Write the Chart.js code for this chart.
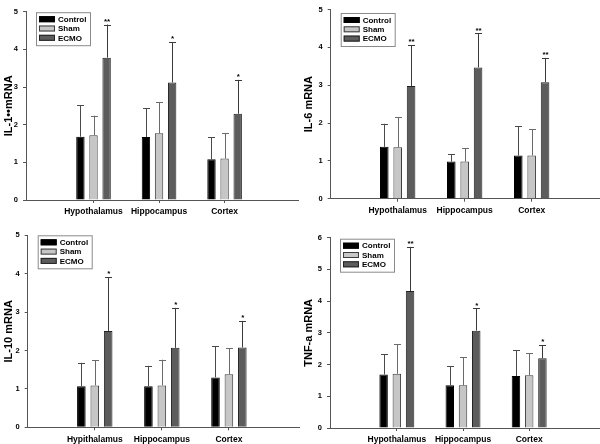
<!DOCTYPE html>
<html>
<head>
<meta charset="utf-8">
<script src="https://cdn.jsdelivr.net/npm/chart.js@4/dist/chart.umd.min.js"></script>
<style>
  body { margin: 0; background: #fff; }
  #wrap { position: relative; width: 600px; height: 444px; }
  .pan { position: absolute; width: 300px; height: 222px; }
</style>
</head>
<body>
<div id="wrap">
  <div class="pan" style="left:0;top:0"><canvas id="c1"></canvas></div>
  <div class="pan" style="left:300px;top:0"><canvas id="c2"></canvas></div>
  <div class="pan" style="left:0;top:222px"><canvas id="c3"></canvas></div>
  <div class="pan" style="left:300px;top:222px"><canvas id="c4"></canvas></div>
</div>
<script>
const seriesNames = ['Control', 'Sham', 'ECMO'];
const regionsA = ['Hypothalamus', 'Hippocampus', 'Cortex'];
const regionsB = ['Hypithalamus', 'Hippocampus', 'Cortex'];
const groupPos = [1, 2, 3];

// IL-1
const il1Control = [1.68, 1.67, 1.08];
const il1Sham = [1.72, 1.77, 1.10];
const il1Ecmo = [3.78, 3.12, 2.29];
const il1ControlErr = [0.83, 0.76, 0.59];
const il1ShamErr = [0.52, 0.82, 0.68];
const il1EcmoErr = [0.88, 1.07, 0.90];
const il1Stars = ['**', '*', '*'];

// IL-6
const il6Control = [1.37, 0.98, 1.14];
const il6Sham = [1.36, 0.98, 1.14];
const il6Ecmo = [2.98, 3.47, 3.08];
const il6ControlErr = [0.61, 0.19, 0.77];
const il6ShamErr = [0.80, 0.35, 0.70];
const il6EcmoErr = [1.08, 0.90, 0.64];
const il6Stars = ['**', '**', '**'];

// IL-10
const il10Control = [1.07, 1.07, 1.30];
const il10Sham = [1.09, 1.09, 1.38];
const il10Ecmo = [2.51, 2.07, 2.08];
const il10ControlErr = [0.61, 0.53, 0.81];
const il10ShamErr = [0.65, 0.67, 0.68];
const il10EcmoErr = [1.40, 1.04, 0.69];
const il10Stars = ['*', '*', '*'];

// TNF-a
const tnfControl = [1.69, 1.35, 1.64];
const tnfSham = [1.71, 1.35, 1.66];
const tnfEcmo = [4.32, 3.07, 2.20];
const tnfControlErr = [0.63, 0.60, 0.82];
const tnfShamErr = [0.93, 0.88, 0.69];
const tnfEcmoErr = [1.39, 0.70, 0.41];
const tnfStars = ['**', '*', '*'];

const fillCols = ['#000000', '#c6c6c6', '#5c5c5c'];
const edgeCols = ['#000000', '#3a3a3a', '#222222'];
const errCols = ['#4a4a4a', '#6a6a6a', '#3a3a3a'];
const FONT = "'Liberation Sans', Arial, sans-serif";

const errPlugin = {
    id: 'errBars',
    afterDatasetsDraw(chart) {
        const ctx = chart.ctx;
        const ys = chart.scales.y;
        chart.data.datasets.forEach((ds, d) => {
            const meta = chart.getDatasetMeta(d);
            meta.data.forEach((bar, i) => {
                const top = ys.getPixelForValue(ds.data[i].y + ds.err[i]);
                ctx.save();
                ctx.strokeStyle = errCols[d];
                ctx.lineWidth = 1;
                ctx.beginPath();
                ctx.moveTo(Math.round(bar.x) + 0.5, bar.y);
                ctx.lineTo(Math.round(bar.x) + 0.5, top);
                ctx.moveTo(Math.round(bar.x) - 3, Math.round(top) + 0.5);
                ctx.lineTo(Math.round(bar.x) + 4, Math.round(top) + 0.5);
                ctx.stroke();
                if (ds.stars) {
                    ctx.fillStyle = '#000';
                    ctx.font = 'bold 8px ' + FONT;
                    ctx.textAlign = 'center';
                    ctx.textBaseline = 'bottom';
                    ctx.fillText(ds.stars[i], bar.x + 0.5, top + 1);
                }
                ctx.restore();
            });
        });
    }
};

const legendPlugin = {
    id: 'boxLegend',
    afterDraw(chart) {
        const ctx = chart.ctx;
        const a = chart.chartArea;
        const x = a.left + 10, y = a.top + chart.options.legDy;
        ctx.save();
        ctx.fillStyle = '#fff';
        ctx.fillRect(x, y, 54, 33);
        ctx.strokeStyle = '#8a8a8a';
        ctx.lineWidth = 1;
        ctx.strokeRect(x + 0.5, y + 0.5, 54, 33);
        chart.data.datasets.forEach((ds, d) => {
            const cy = y + 7 + d * 9.3;
            ctx.fillStyle = fillCols[d];
            ctx.fillRect(x + 3, cy - 3, 16, 6);
            ctx.strokeStyle = edgeCols[d];
            ctx.strokeRect(x + 3.5, cy - 2.5, 15, 5);
            ctx.fillStyle = '#000';
            ctx.font = 'bold 8px ' + FONT;
            ctx.textAlign = 'left';
            ctx.textBaseline = 'middle';
            ctx.fillText(ds.label, x + 22, cy + 0.5);
        });
        ctx.restore();
    }
};

function makePanel(id, labels, vals, errs, stars, yMax, yTitle, box) {
    const datasets = seriesNames.map((name, d) => ({
        label: name,
        data: groupPos.map((p, i) => ({ x: p, y: vals[d][i] })),
        err: errs[d],
        stars: d === 2 ? stars : null,
        backgroundColor: fillCols[d],
        borderColor: edgeCols[d],
        borderWidth: 1,
        categoryPercentage: 0.6,
        barPercentage: 0.64
    }));
    new Chart(document.getElementById(id), {
        type: 'bar',
        data: { datasets },
        plugins: [errPlugin, legendPlugin],
        options: {
            responsive: true,
            maintainAspectRatio: false,
            animation: false,
            legDy: box.legDy,
            layout: { padding: { top: box.top, right: 300 - box.right, left: 0, bottom: 0 } },
            plugins: { legend: { display: false }, tooltip: { enabled: false } },
            scales: {
                x: {
                    type: 'linear',
                    offset: false,
                    min: box.xMin,
                    max: box.xMax,
                    afterBuildTicks: s => { s.ticks = groupPos.map(v => ({ value: v })); },
                    afterFit: s => { s.height = 222 - box.bottom; },
                    grid: { offset: false, drawOnChartArea: false, tickLength: 3, color: '#555' },
                    border: { color: '#555', width: 1 },
                    ticks: {
                        autoSkip: false, maxRotation: 0, padding: 4, color: '#000',
                        font: { family: FONT, size: 8.5, weight: 'bold' },
                        callback: v => labels[groupPos.indexOf(v)] || ''
                    }
                },
                y: {
                    min: 0,
                    max: yMax,
                    afterFit: s => { s.width = box.left; },
                    grid: { drawOnChartArea: false, tickLength: 3, color: '#555' },
                    border: { color: '#555', width: 1 },
                    ticks: {
                        stepSize: 1, padding: 5, color: '#000',
                        font: { family: FONT, size: 7.5, weight: 'bold' }
                    },
                    title: {
                        display: true, text: yTitle, color: '#000', padding: { top: 2.5, bottom: 0 },
                        font: { family: FONT, size: 11, weight: 'bold' }
                    }
                }
            }
        }
    });
}

makePanel('c1', regionsA, [il1Control, il1Sham, il1Ecmo], [il1ControlErr, il1ShamErr, il1EcmoErr], il1Stars,
    5, 'IL-1\u2022\u2022mRNA', { left: 26, top: 11.7, bottom: 200, right: 298, xMin: -0.03, xMax: 4.12, legDy: 0.5 });
makePanel('c2', regionsA, [il6Control, il6Sham, il6Ecmo], [il6ControlErr, il6ShamErr, il6EcmoErr], il6Stars,
    5, 'IL-6 mRNA', { left: 30.7, top: 4.7, bottom: 198.7, right: 300, xMin: 0, xMax: 4.02, legDy: 3.5 });
makePanel('c3', regionsB, [il10Control, il10Sham, il10Ecmo], [il10ControlErr, il10ShamErr, il10EcmoErr], il10Stars,
    5, 'IL-10 mRNA', { left: 27.7, top: 13.3, bottom: 205.3, right: 300, xMin: 0, xMax: 4.06, legDy: 0 });
makePanel('c4', regionsA, [tnfControl, tnfSham, tnfEcmo], [tnfControlErr, tnfShamErr, tnfEcmoErr], tnfStars,
    6, 'TNF-a mRNA', { left: 30, top: 15.7, bottom: 206, right: 300, xMin: -0.01, xMax: 4.07, legDy: 1 });
</script>
</body>
</html>
